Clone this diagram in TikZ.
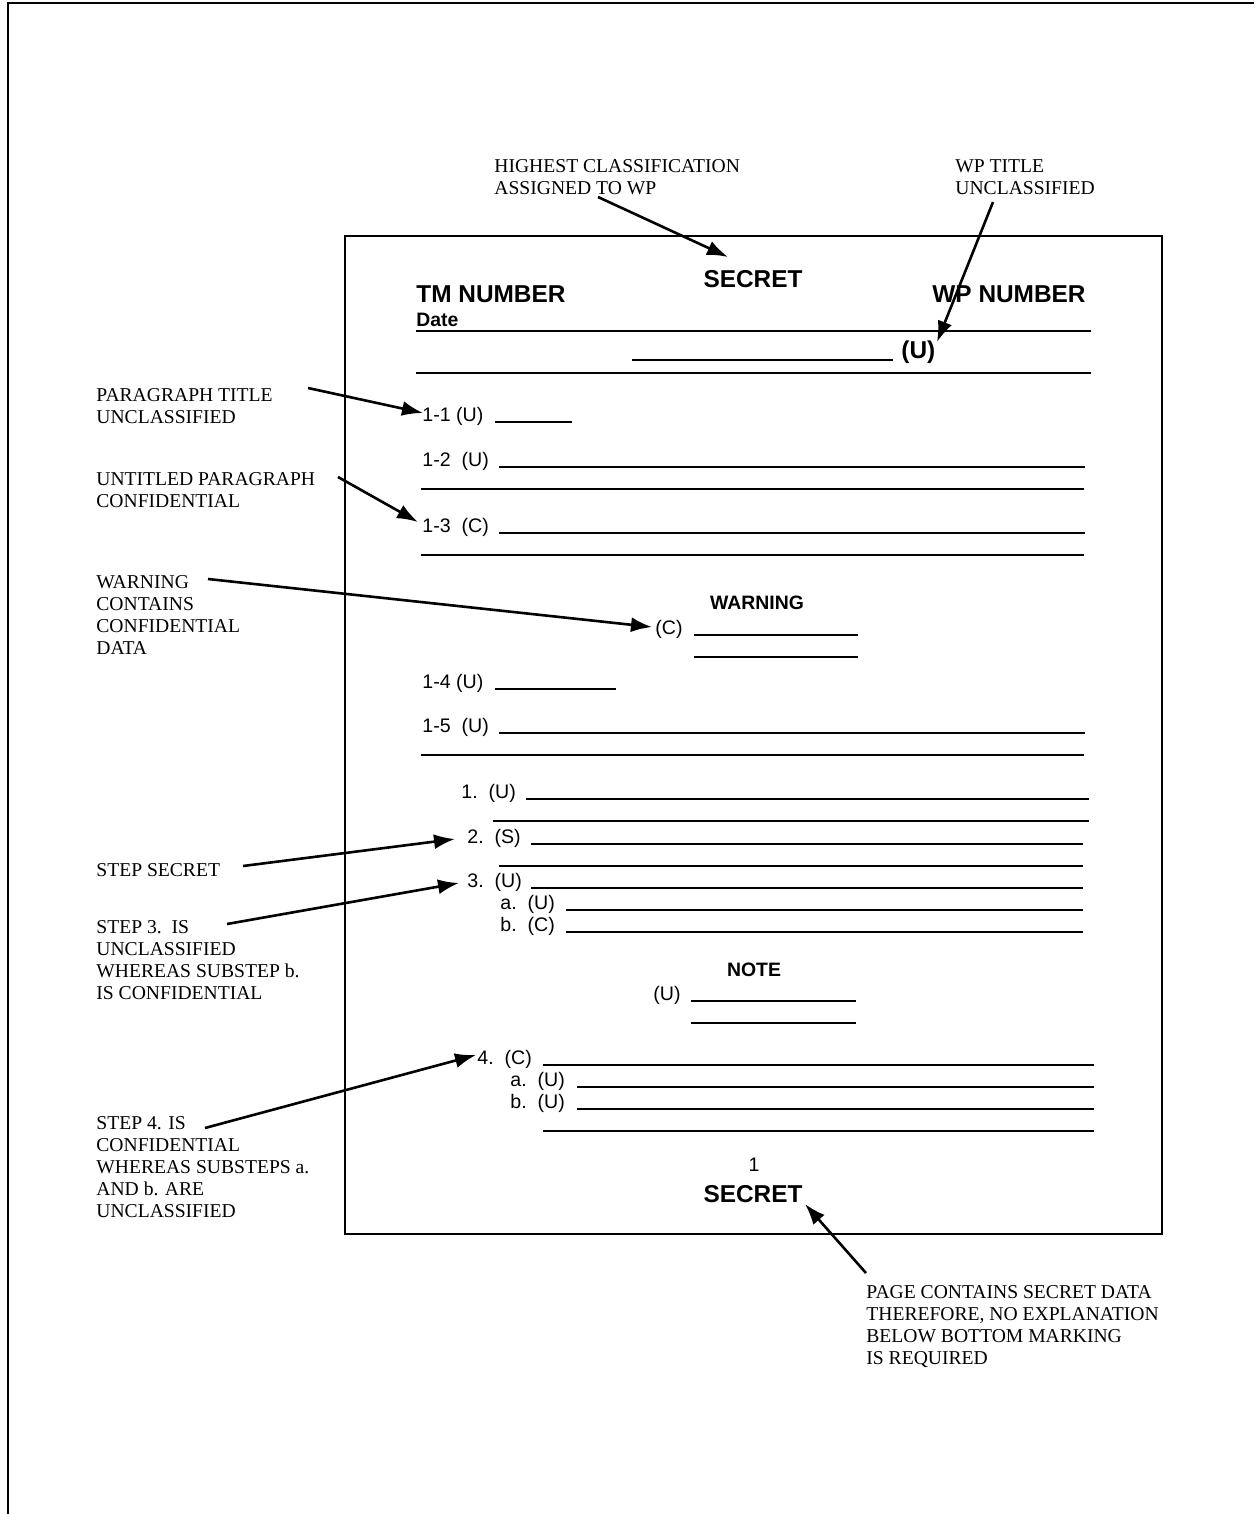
\documentclass[tikz,border=0pt]{standalone}
\usepackage{fontspec}
\setmainfont{Liberation Serif}
\setsansfont{Liberation Sans}
\usetikzlibrary{arrows.meta}
\begin{document}
\begin{tikzpicture}[x=0.5pt,y=-0.5pt,
  lab/.style={anchor=north west,inner sep=0pt,align=left,font=\rmfamily\fontsize{9.8}{11}\selectfont},
  txt/.style={anchor=base west,inner sep=0pt,font=\sffamily\fontsize{9.8}{11}\selectfont},
  bigb/.style={inner sep=0pt,font=\sffamily\bfseries\fontsize{12.2}{14}\selectfont},
  smb/.style={inner sep=0pt,anchor=base,font=\sffamily\bfseries\fontsize{9.7}{11}\selectfont},
  rule/.style={line width=0.8pt},
  arr/.style={line width=1.3pt,-{Latex[length=10.5pt,width=7.5pt]}},
  frame/.style={line width=1pt}]
\useasboundingbox (0,0) rectangle (1254,1514);
% outer frame (top and left only)
\draw[frame] (8,1514) -- (8,3) -- (1254,3);
% inner page
\draw[line width=1pt] (345,236) rectangle (1162,1234);

% header
\node[bigb,anchor=base] (sectop) at (753,287) {SECRET};
\node[bigb,anchor=base west] (tmnum) at (416,302) {TM NUMBER};
\node[bigb,anchor=base east] (wpnum) at (1086,302) {WP NUMBER};
\node[smb,anchor=base west] (date) at (416,326) {Date};
\draw[rule] (416,331) -- (1091,331);
\draw[rule] (632,360) -- (893,360);
\node[bigb,anchor=base west] (tu) at (901,358) {(U)};
\draw[rule] (416,373) -- (1091,373);

% paragraphs
\node[txt] (p11) at (422,421) {1-1 (U)};
\draw[rule] (495,422) -- (572,422);
\node[txt] (p12) at (422,466) {1-2\ \ (U)};
\draw[rule] (499,467) -- (1085,467);
\draw[rule] (421,489) -- (1084,489);
\node[txt] (p13) at (422,532) {1-3\ \ (C)};
\draw[rule] (499,533) -- (1085,533);
\draw[rule] (421,555) -- (1084,555);

\node[smb] (warnh) at (757,609) {WARNING};
\node[txt] (wc) at (655,634) {(C)};
\draw[rule] (694,635) -- (858,635);
\draw[rule] (694,657) -- (858,657);

\node[txt] (p14) at (422,688) {1-4 (U)};
\draw[rule] (495,689) -- (616,689);
\node[txt] (p15) at (422,732) {1-5\ \ (U)};
\draw[rule] (499,733) -- (1085,733);
\draw[rule] (421,755) -- (1084,755);

\node[txt] (s1) at (461,798) {1.\ \ (U)};
\draw[rule] (526,799) -- (1089,799);
\draw[rule] (493,821) -- (1089,821);
\node[txt] (s2) at (467,843) {2.\ \ (S)};
\draw[rule] (531,844) -- (1083,844);
\draw[rule] (499,866) -- (1083,866);
\node[txt] (s3) at (467,887) {3.\ \ (U)};
\draw[rule] (531,888) -- (1083,888);
\node[txt] (s3a) at (500,909) {a.\ \ (U)};
\draw[rule] (566,910) -- (1083,910);
\node[txt] (s3b) at (500,931) {b.\ \ (C)};
\draw[rule] (566,932) -- (1083,932);

\node[smb] (noteh) at (754,976) {NOTE};
\node[txt] (nu) at (653,1000) {(U)};
\draw[rule] (691,1001) -- (856,1001);
\draw[rule] (691,1023) -- (856,1023);

\node[txt] (s4) at (477,1064) {4.\ \ (C)};
\draw[rule] (543,1065) -- (1094,1065);
\node[txt] (s4a) at (510,1086) {a.\ \ (U)};
\draw[rule] (577,1087) -- (1094,1087);
\node[txt] (s4b) at (510,1108) {b.\ \ (U)};
\draw[rule] (577,1109) -- (1094,1109);
\draw[rule] (543,1131) -- (1094,1131);

\node[txt,anchor=base] (pgno) at (754,1171) {1};
\node[bigb,anchor=base] (secbot) at (753,1202) {SECRET};

% callout labels
\node[lab] (lhigh) at (494,159) {HIGHEST CLASSIFICATION\\ASSIGNED TO WP};
\node[lab] (lwpt) at (955,159) {WP TITLE\\UNCLASSIFIED};
\node[lab] (lpara) at (96,388) {PARAGRAPH TITLE\\UNCLASSIFIED};
\node[lab] (luntl) at (96,472) {UNTITLED PARAGRAPH\\CONFIDENTIAL};
\node[lab] (lwarn) at (96,575) {WARNING\\CONTAINS\\CONFIDENTIAL\\DATA};
\node[lab] (lss) at (96,863) {STEP SECRET};
\node[lab] (ls3) at (96,920) {STEP 3.\ \ IS\\UNCLASSIFIED\\WHEREAS SUBSTEP b.\\IS CONFIDENTIAL};
\node[lab] (ls4) at (96,1116) {STEP 4. IS\\CONFIDENTIAL\\WHEREAS SUBSTEPS a.\\AND b. ARE\\UNCLASSIFIED};
\node[lab] (lpage) at (866,1285) {PAGE CONTAINS SECRET DATA\\THEREFORE, NO EXPLANATION\\BELOW BOTTOM MARKING\\IS REQUIRED};

% arrow ends
\coordinate (t1) at (598,197);  \coordinate (h1) at (728,257);
\coordinate (t2) at (993,202);  \coordinate (h2) at (937,342);
\coordinate (t3) at (308,388);  \coordinate (h3) at (423,413);
\coordinate (t4) at (338,477);  \coordinate (h4) at (418,522);
\coordinate (t5) at (208,579);  \coordinate (h5) at (652,627);
\coordinate (t6) at (243,866);  \coordinate (h6) at (455,839);
\coordinate (t7) at (227,924);  \coordinate (h7) at (459,883);
\coordinate (t8) at (205,1128); \coordinate (h8) at (476,1055);
\coordinate (t9) at (866,1273); \coordinate (h9) at (805,1204);
\draw[arr] (t1) -- (h1);
\draw[arr] (t2) -- (h2);
\draw[arr] (t3) -- (h3);
\draw[arr] (t4) -- (h4);
\draw[arr] (t5) -- (h5);
\draw[arr] (t6) -- (h6);
\draw[arr] (t7) -- (h7);
\draw[arr] (t8) -- (h8);
\draw[arr] (t9) -- (h9);
\end{tikzpicture}
\end{document}
